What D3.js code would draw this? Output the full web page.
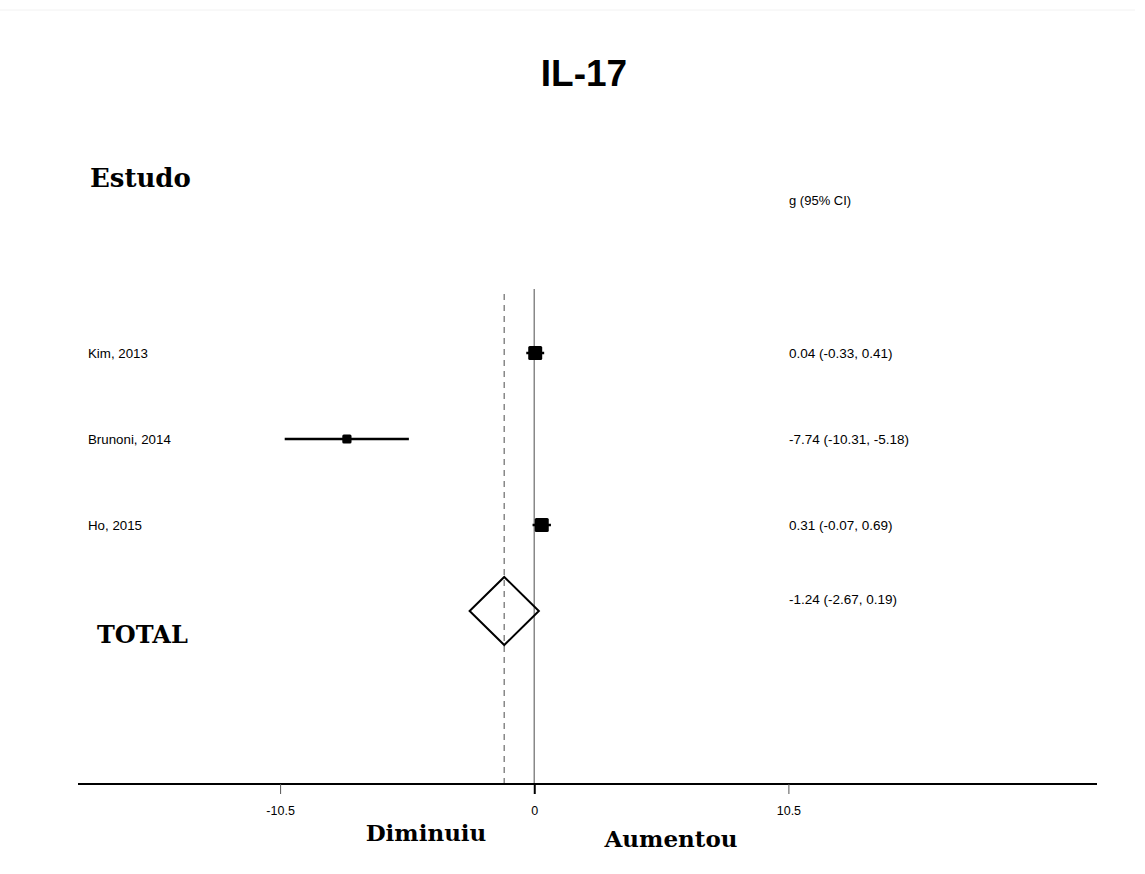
<!DOCTYPE html>
<html>
<head>
<meta charset="utf-8">
<script src="https://cdn.jsdelivr.net/npm/d3@7"></script>
<style>
  html, body { margin: 0; padding: 0; background: #fff; }
  svg { display: block; }
</style>
</head>
<body>
<svg id="chart" width="1145" height="874"></svg>
<script>
// Forest plot data: Hedges' g with 95% CI per study
const studies = ["Kim, 2013", "Brunoni, 2014", "Ho, 2015"];
const effect = [0.04, -7.74, 0.31];
const lower = [-0.33, -10.31, -0.07];
const upper = [0.41, -5.18, 0.69];
const weight = [41.0, 17.9, 41.1];

// Pooled estimate
const pooled = { label: "TOTAL", g: -1.24, lo: -2.67, hi: 0.19 };

// Axis
const tickValues = [-10.5, 0, 10.5];
const tickLabels = ["-10.5", "0", "10.5"];
const axisExtent = [-18.85, 23.25];

const svg = d3.select("#chart");

const x = d3.scaleLinear().domain(axisExtent).range([78, 1097]);
const rowNames = studies.concat([pooled.label]);
const y = d3.scalePoint().domain(rowNames).range([353, 611]);
const sizeScale = d3.scaleSqrt().domain([0, d3.max(weight)]).range([0, 14]);

const axisY = 784;
const valueX = 789;
const sans = "'Liberation Sans', Arial, sans-serif";
const serif = "'DejaVu Serif', 'Liberation Serif', serif";

// faint frame line at the top
svg.append("line").attr("x1", 0).attr("x2", 1135).attr("y1", 10).attr("y2", 10)
  .attr("stroke", "#f2f2f2").attr("stroke-width", 1);

// Title
svg.append("text").attr("x", 584).attr("y", 86).attr("text-anchor", "middle")
  .attr("font-family", sans).attr("font-weight", "bold").attr("font-size", 37)
  .text("IL-17");

// Column headers
svg.append("text").attr("x", 90).attr("y", 187)
  .attr("font-family", serif).attr("font-weight", "bold").attr("font-size", 26)
  .text("Estudo");
svg.append("text").attr("x", valueX).attr("y", 205)
  .attr("font-family", sans).attr("font-size", 13)
  .text("g (95% CI)");

// Null line (g = 0)
svg.append("line").attr("x1", x(0)).attr("x2", x(0)).attr("y1", 289).attr("y2", axisY)
  .attr("stroke", "#888").attr("stroke-width", 1.5);

// Pooled effect dashed line
svg.append("line").attr("x1", x(pooled.g)).attr("x2", x(pooled.g)).attr("y1", 294).attr("y2", axisY)
  .attr("stroke", "#888").attr("stroke-width", 1.5).attr("stroke-dasharray", "6,5");

// Study rows
const rows = svg.append("g");
studies.forEach((name, i) => {
  const cy = y(name);
  rows.append("line").attr("x1", x(lower[i])).attr("x2", x(upper[i]))
    .attr("y1", cy).attr("y2", cy).attr("stroke", "#000").attr("stroke-width", 2.5);
  const s = sizeScale(weight[i]);
  rows.append("rect").attr("x", x(effect[i]) - s / 2).attr("y", cy - s / 2)
    .attr("width", s).attr("height", s).attr("rx", 1.5).attr("fill", "#000");
  rows.append("text").attr("x", 88).attr("y", cy + 5)
    .attr("font-family", sans).attr("font-size", 13.3).text(name);
  rows.append("text").attr("x", valueX).attr("y", cy + 5)
    .attr("font-family", sans).attr("font-size", 13.5)
    .text(`${effect[i].toFixed(2)} (${lower[i].toFixed(2)}, ${upper[i].toFixed(2)})`);
});

// Pooled diamond
const py = y(pooled.label);
const dh = 34;
svg.append("path")
  .attr("d", `M${x(pooled.lo)},${py} L${x(pooled.g)},${py - dh} L${x(pooled.hi)},${py} L${x(pooled.g)},${py + dh} Z`)
  .attr("fill", "none").attr("stroke", "#000").attr("stroke-width", 2);
svg.append("text").attr("x", valueX).attr("y", py - 7)
  .attr("font-family", sans).attr("font-size", 13.5)
  .text(`${pooled.g.toFixed(2)} (${pooled.lo.toFixed(2)}, ${pooled.hi.toFixed(2)})`);
svg.append("text").attr("x", 97).attr("y", py + 32)
  .attr("font-family", serif).attr("font-weight", "bold").attr("font-size", 24)
  .text(pooled.label);

// X axis
const axis = d3.axisBottom(x).tickValues(tickValues)
  .tickFormat((d, i) => tickLabels[i]).tickSize(10).tickPadding(12);
const gAxis = svg.append("g").attr("transform", `translate(0,${axisY})`).call(axis);
gAxis.select(".domain").attr("stroke", "#000").attr("stroke-width", 2)
  .attr("d", `M${x.range()[0]},0H${x.range()[1]}`);
gAxis.selectAll(".tick line").attr("stroke", d => d === 0 ? "#000" : "#555")
  .attr("stroke-width", d => d === 0 ? 2 : 1);
gAxis.selectAll(".tick text").attr("font-family", sans).attr("font-size", 12.5).attr("fill", "#000");

// Direction labels
svg.append("text").attr("x", 426).attr("y", 841).attr("text-anchor", "middle")
  .attr("font-family", serif).attr("font-weight", "bold").attr("font-size", 23)
  .text("Diminuiu");
svg.append("text").attr("x", 671).attr("y", 847).attr("text-anchor", "middle")
  .attr("font-family", serif).attr("font-weight", "bold").attr("font-size", 23)
  .text("Aumentou");
</script>
</body>
</html>
